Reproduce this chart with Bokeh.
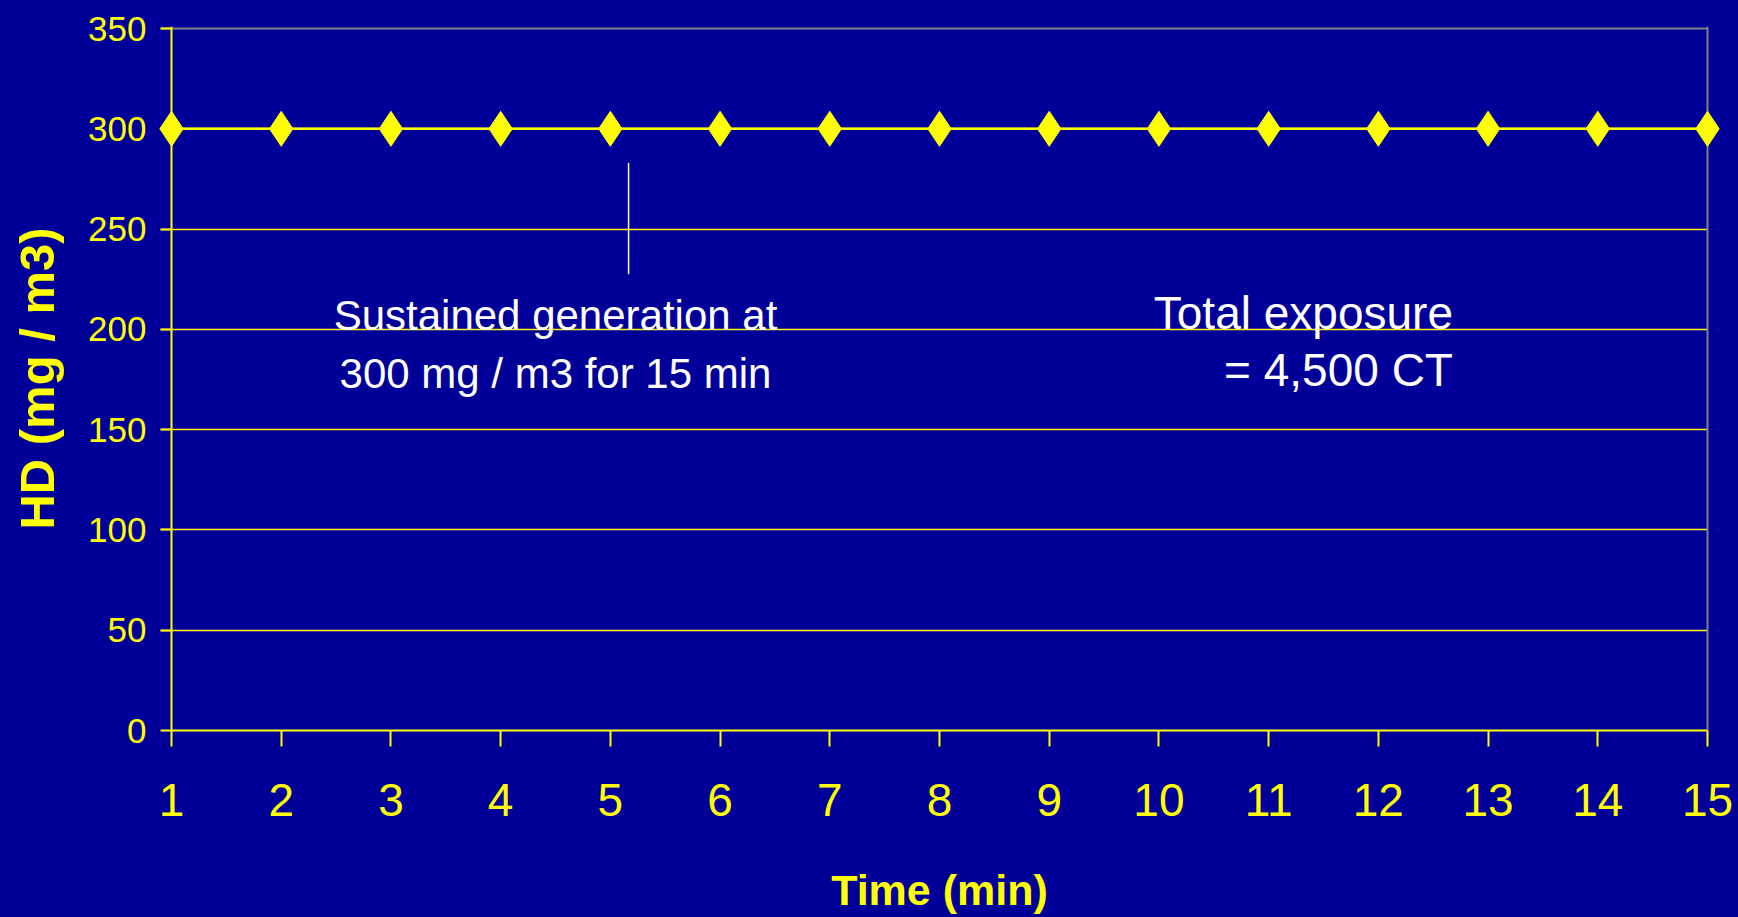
from bokeh.plotting import figure
from bokeh.models import Range1d, FixedTicker, Span, Label, Grid, BoxAnnotation
from bokeh.embed import file_html
from bokeh.resources import INLINE

# ---- data ----
time_min = [1, 2, 3, 4, 5, 6, 7, 8, 9, 10, 11, 12, 13, 14, 15]
hd_conc = [300, 300, 300, 300, 300, 300, 300, 300, 300, 300, 300, 300, 300, 300, 300]
y_ticks = [0, 50, 100, 150, 200, 250, 300, 350]
x_title = "Time (min)"
y_title = "HD (mg / m3)"
note_left = ["Sustained generation at", "300 mg / m3 for 15 min"]
note_right = ["Total exposure", "= 4,500 CT"]

BG = "#000099"
YEL = "#FFFF00"
GRAY = "#808080"
FONT = "Liberation Sans"

x0, x1 = min(time_min), max(time_min)
y0, y1 = min(y_ticks), max(y_ticks)
pad = 11 / (1536 / (x1 - x0))      # room so the end markers are not clipped
ypad = 2 / (702 / (y1 - y0))       # room so the top border line is not clipped

p = figure(width=1738, height=917, output_backend="svg", toolbar_location=None,
           x_range=Range1d(x0 - pad, x1 + pad), y_range=Range1d(y0, y1 + ypad),
           min_border_left=160, min_border_right=20, min_border_top=26, min_border_bottom=187)
# solid page colour behind the whole canvas (avoids seams at the frame edge)
p.styles = {"background-color": BG}
p.background_fill_color = None
p.border_fill_color = None
p.outline_line_color = None

# grid
p.xgrid.grid_line_color = None
p.ygrid.ticker = FixedTicker(ticks=y_ticks[:-1])
p.ygrid.grid_line_color = YEL
p.ygrid.grid_line_width = 1.5
# gray top border line
p.add_layout(Grid(dimension=1, ticker=FixedTicker(ticks=[y1]), grid_line_color=GRAY, grid_line_width=2,
                  level="glyph"))
# hide the grid beyond the last category, then draw the gray right border
p.add_layout(BoxAnnotation(left=x1, fill_color=BG, fill_alpha=1, line_color=None, level="glyph"))
p.add_layout(Span(location=x1, dimension="height", line_color=GRAY, line_width=2, level="glyph"))
# y axis line at the first category
p.add_layout(Span(location=x0, dimension="height", line_color=YEL, line_width=2, level="glyph"))

# axes
p.xaxis.ticker = FixedTicker(ticks=time_min)
p.xaxis.bounds = (x0, x1)
p.yaxis.ticker = FixedTicker(ticks=y_ticks)
for ax in (p.xaxis[0], p.yaxis[0]):
    ax.axis_line_width = 2
    ax.major_tick_line_color = YEL
    ax.major_tick_line_width = 2
    ax.minor_tick_line_color = None
    ax.major_label_text_color = YEL
    ax.major_label_text_font = FONT
    ax.axis_label_text_color = YEL
    ax.axis_label_text_font = FONT
    ax.axis_label_text_font_style = "bold"

p.xaxis.axis_line_color = YEL
p.xaxis.major_tick_in = 0
p.xaxis.major_tick_out = 16
p.xaxis.major_label_text_font_size = "46px"
p.xaxis.major_label_standoff = 37
p.xaxis.axis_label = x_title
p.xaxis.axis_label_text_font_size = "43px"
p.xaxis.axis_label_standoff = 47

p.yaxis.axis_line_color = None
p.yaxis.major_tick_in = 11
p.yaxis.major_tick_out = 0
p.yaxis.major_label_text_font_size = "35px"
p.yaxis.major_label_standoff = 14
p.yaxis.axis_label = y_title
p.yaxis.axis_label_text_font_size = "49px"
p.yaxis.axis_label_standoff = 21

# data series
r_line = p.line(time_min, hd_conc, line_color=YEL, line_width=2.5)
r_pts = p.scatter(time_min, hd_conc, marker="diamond", size=35, fill_color=YEL, line_color=YEL)
r_line.level = "overlay"
r_pts.level = "overlay"

# annotation pointer
p.segment(x0=[5.166], y0=[283], x1=[5.166], y1=[227.5], line_color="white", line_width=1.5)

# annotation texts
for i, t in enumerate(note_left):
    p.add_layout(Label(x=4.5, y=[207, 178][i], text=t, text_align="center",
                       text_baseline="alphabetic", text_color="white",
                       text_font=FONT, text_font_size="42px"))
for i, t in enumerate(note_right):
    p.add_layout(Label(x=12.68, y=[208, 179.5][i], text=t, text_align="right",
                       text_baseline="alphabetic", text_color="white",
                       text_font=FONT, text_font_size="46px"))

open("out.html", "w").write(file_html(p, INLINE))
